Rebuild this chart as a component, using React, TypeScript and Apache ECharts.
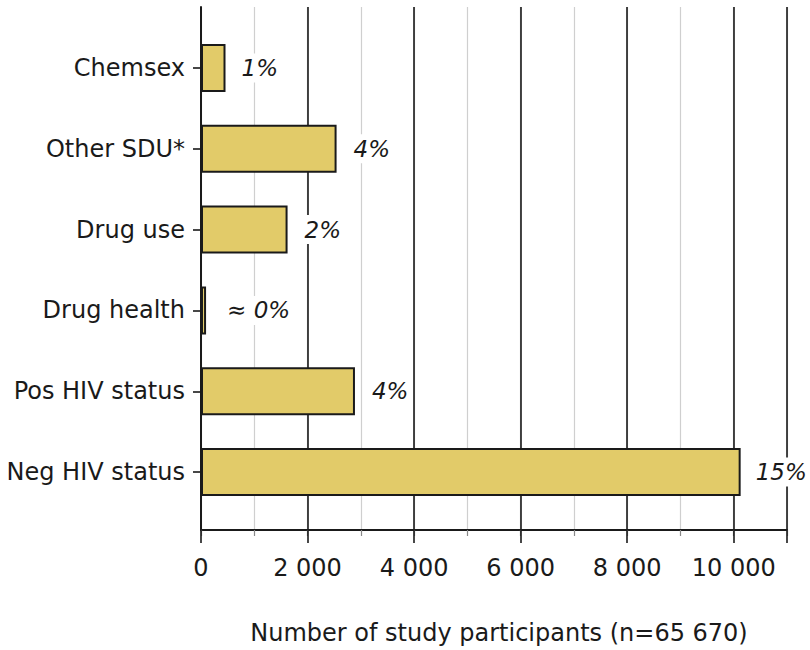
import React, { useEffect, useRef } from "react";
import * as echarts from "echarts";

const categories = ["Chemsex", "Other SDU*", "Drug use", "Drug health", "Pos HIV status", "Neg HIV status"];
const values = [460, 2545, 1625, 95, 2890, 10130];
const percentLabels = ["1%", "4%", "2%", "≈ 0%", "4%", "15%"];
const labelDistances = [15, 16, 16, 20, 16, 14];
const xMin = 0;
const xMax = 11000;
const axisTitle = "Number of study participants (n=65 670)";

const FONT = "DejaVu Sans";
const DARK = "#1a1a1a";

function fmt(v: number): string {
  const s = String(Math.round(v));
  return s.replace(/\B(?=(\d{3})+(?!\d))/g, " ");
}

export default function App() {
  const ref = useRef<HTMLDivElement>(null);
  useEffect(() => {
    if (!ref.current) return;
    const chart = echarts.init(ref.current, undefined, { renderer: "svg" });
    const option: any = {
      animation: false,
      backgroundColor: "#ffffff",
      textStyle: { fontFamily: FONT },
      grid: [
        { left: 201, right: 23, top: 7, bottom: 118 },
        { left: 201, right: 23, top: 27.5, bottom: 137.5 },
      ],
      xAxis: [
        {
          gridIndex: 0,
          type: "value",
          position: "bottom",
          min: xMin,
          max: xMax,
          interval: 1000,
          axisLine: { show: false },
          axisTick: { show: true, length: 6, lineStyle: { color: "#888", width: 1.2 } },
          axisLabel: { show: false },
          splitLine: { show: true, lineStyle: { color: "#cfcfcf", width: 1.2 } },
        },
        {
          gridIndex: 0,
          type: "value",
          position: "bottom",
          min: xMin,
          max: xMax,
          interval: 2000,
          axisLine: { show: true, onZero: false, lineStyle: { color: DARK, width: 2 } },
          axisTick: { show: true, length: 13, lineStyle: { color: DARK, width: 1.6 } },
          axisLabel: {
            show: true,
            margin: 26,
            fontSize: 24,
            color: DARK,
            fontFamily: FONT,
            formatter: (v: number) => (v > 10000 ? "" : fmt(v)),
          },
          splitLine: { show: true, lineStyle: { color: DARK, width: 1.6 } },
          name: axisTitle,
          nameLocation: "middle",
          nameGap: 91,
          nameTextStyle: { fontSize: 24, color: DARK, fontFamily: FONT, padding: [0, 0, 0, 10] },
        },
        {
          gridIndex: 1,
          type: "value",
          min: xMin,
          max: xMax,
          show: false,
        },
      ],
      yAxis: [
        {
          gridIndex: 0,
          type: "value",
          min: 0,
          max: 1,
          axisLine: { show: true, lineStyle: { color: DARK, width: 2 } },
          axisTick: { show: false },
          axisLabel: { show: false },
          splitLine: { show: false },
        },
        {
          gridIndex: 1,
          type: "category",
          inverse: true,
          data: categories,
          axisLine: { show: false },
          axisTick: { show: true, alignWithLabel: true, length: 8, lineStyle: { color: DARK, width: 1.6 } },
          axisLabel: { margin: 16, fontSize: 24, color: DARK, fontFamily: FONT },
          splitLine: { show: false },
        },
      ],
      series: [
        {
          type: "bar",
          xAxisIndex: 2,
          yAxisIndex: 1,
          barWidth: 48,
          data: values.map((v, i) => ({
            value: v,
            label: {
              show: true,
              position: "right",
              distance: labelDistances[i],
              formatter: percentLabels[i],
              fontSize: 23,
              fontStyle: "italic",
              color: DARK,
              fontFamily: FONT,
              backgroundColor: "#ffffff",
              padding: [3, 1],
            },
          })),
          itemStyle: { color: "#e2cb69", borderColor: DARK, borderWidth: 2 },
        },
      ],
    };
    chart.setOption(option);
    return () => chart.dispose();
  }, []);
  return <div ref={ref} style={{ position: "absolute", left: 0, top: 0, width: 810, height: 650 }} />;
}
